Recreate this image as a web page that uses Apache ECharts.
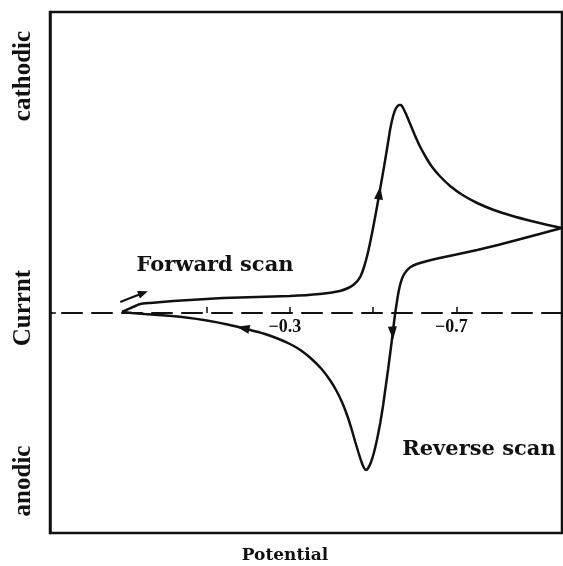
<!DOCTYPE html>
<html>
<head>
<meta charset="utf-8">
<script src="https://cdn.jsdelivr.net/npm/echarts@6/dist/echarts.min.js"></script>
<style>
  html, body { margin: 0; padding: 0; background: #fff; }
  #chart-container { width: 563px; height: 566px; }
</style>
</head>
<body>
<div id="chart-container"></div>
<script>
// potential (V), current (arbitrary units)
var forwardScan = [
  [0.104, 0.01], [0.072, 0.07], [0.060, 0.09], [0.036, 0.10], [-0.019, 0.12],
  [-0.139, 0.15], [-0.300, 0.17], [-0.372, 0.19], [-0.420, 0.22], [-0.440, 0.25],
  [-0.452, 0.28], [-0.462, 0.32], [-0.470, 0.37], [-0.478, 0.46], [-0.486, 0.58],
  [-0.494, 0.73], [-0.502, 0.90], [-0.510, 1.08], [-0.518, 1.27], [-0.526, 1.46],
  [-0.534, 1.66], [-0.541, 1.84], [-0.548, 1.97], [-0.555, 2.05], [-0.562, 2.08],
  [-0.567, 2.08], [-0.572, 2.05], [-0.580, 1.98], [-0.590, 1.88], [-0.600, 1.78],
  [-0.612, 1.67], [-0.625, 1.57], [-0.640, 1.47], [-0.660, 1.37], [-0.685, 1.27],
  [-0.715, 1.18], [-0.750, 1.10], [-0.790, 1.03], [-0.835, 0.97], [-0.880, 0.92],
  [-0.920, 0.88], [-0.954, 0.85]
];

var reverseScan = [
  [-0.954, 0.85], [-0.900, 0.79], [-0.850, 0.735], [-0.800, 0.68], [-0.750, 0.63],
  [-0.700, 0.585], [-0.660, 0.55], [-0.630, 0.52], [-0.605, 0.49], [-0.590, 0.46],
  [-0.580, 0.42], [-0.572, 0.37], [-0.566, 0.30], [-0.561, 0.21], [-0.557, 0.11],
  [-0.553, 0.00], [-0.549, -0.13], [-0.545, -0.27], [-0.541, -0.40], [-0.536, -0.56],
  [-0.530, -0.74], [-0.524, -0.92], [-0.517, -1.10], [-0.509, -1.27], [-0.501, -1.41],
  [-0.494, -1.50], [-0.488, -1.55], [-0.483, -1.57], [-0.478, -1.55], [-0.472, -1.49],
  [-0.465, -1.40], [-0.457, -1.29], [-0.448, -1.16], [-0.438, -1.03], [-0.426, -0.90],
  [-0.412, -0.78], [-0.396, -0.67], [-0.376, -0.56], [-0.352, -0.46], [-0.325, -0.37],
  [-0.300, -0.31], [-0.270, -0.255], [-0.240, -0.21], [-0.200, -0.165], [-0.150, -0.115],
  [-0.100, -0.075], [-0.050, -0.045], [0.000, -0.025], [0.050, -0.01], [0.080, 0.00],
  [0.104, 0.01]
];

// little curved arrow above the start of the scan
var startArrow = [[0.108, 0.11], [0.084, 0.15], [0.053, 0.20]];

// arrow heads sitting on the curve
var forwardArrowAt = [-0.515, 1.20];
var reverseArrowsAt = [[-0.547, -0.20], [-0.187, -0.15]];

var tickValues = [-0.1, -0.3, -0.5, -0.7];
var labelValues = [-0.3, -0.7];

var dom = document.getElementById("chart-container");
var myChart = echarts.init(dom, null, { renderer: "canvas" });

var ink = "#111";
var serif = "'Liberation Serif', 'Times New Roman', serif";
var wideSerif = "'DejaVu Serif', serif";

function arrowHead(coord, rot) {
  return { coord: coord, symbol: "triangle", symbolSize: [9, 13], symbolRotate: rot };
}

var option = {
  animation: false,
  backgroundColor: "#fff",
  grid: {
    left: 50,
    right: 1,
    top: 12,
    bottom: 33,
    show: true,
    borderColor: ink,
    borderWidth: 2.5
  },
  xAxis: {
    type: "value",
    inverse: true,
    min: -0.954,
    max: 0.277,
    // the dashed zero line, lifted from the bottom edge to current = 0
    offset: -220,
    splitLine: { show: false },
    axisLine: {
      onZero: false,
      lineStyle: { color: ink, width: 2, type: [20, 10] }
    },
    axisTick: {
      show: true,
      inside: true,
      length: 6,
      customValues: tickValues,
      lineStyle: { color: ink, width: 1.5 }
    },
    axisLabel: {
      show: true,
      customValues: labelValues,
      margin: 5,
      padding: [0, 10, 0, 0],
      color: ink,
      fontFamily: serif,
      fontWeight: "bold",
      fontSize: 18,
      formatter: function (v) {
        return (v < 0 ? "\u2212" : "") + Math.abs(v).toFixed(1);
      }
    }
  },
  yAxis: {
    type: "value",
    min: -2.2,
    max: 3.01,
    splitLine: { show: false },
    axisLine: { show: true, onZero: false, lineStyle: { color: ink, width: 2.5 } },
    axisTick: {
      show: true,
      inside: true,
      length: 6,
      customValues: [0],
      lineStyle: { color: ink, width: 1.5 }
    },
    axisLabel: { show: false }
  },
  series: [
    {
      name: "Forward scan",
      type: "line",
      data: forwardScan,
      smooth: 0.15,
      showSymbol: false,
      lineStyle: { color: ink, width: 2.5 },
      markPoint: {
        itemStyle: { color: ink },
        label: { show: false },
        data: [arrowHead(forwardArrowAt, -8)]
      }
    },
    {
      name: "Reverse scan",
      type: "line",
      data: reverseScan,
      smooth: 0.15,
      showSymbol: false,
      lineStyle: { color: ink, width: 2.5 },
      markPoint: {
        itemStyle: { color: ink },
        label: { show: false },
        data: [
          arrowHead(reverseArrowsAt[0], 183),
          arrowHead(reverseArrowsAt[1], 78)
        ]
      }
    },
    {
      name: "start",
      type: "line",
      data: startArrow,
      smooth: true,
      showSymbol: false,
      lineStyle: { color: ink, width: 2 },
      markPoint: {
        itemStyle: { color: ink },
        label: { show: false },
        data: [{ coord: startArrow[2], symbol: "triangle", symbolSize: [8, 10], symbolRotate: -69 }]
      }
    }
  ],
  graphic: [
    {
      type: "text", x: 24, y: 76, rotation: Math.PI / 2,
      style: { text: "cathodic", fill: ink, font: "bold 25px " + serif, align: "center", verticalAlign: "middle" }
    },
    {
      type: "text", x: 24, y: 308, rotation: Math.PI / 2,
      style: { text: "Currnt", fill: ink, font: "bold 25px " + serif, align: "center", verticalAlign: "middle" }
    },
    {
      type: "text", x: 24, y: 481, rotation: Math.PI / 2,
      style: { text: "anodic", fill: ink, font: "bold 25px " + serif, align: "center", verticalAlign: "middle" }
    },
    {
      type: "text", x: 215, y: 266,
      style: { text: "Forward scan", fill: ink, font: "bold 21px " + wideSerif, align: "center", verticalAlign: "middle" }
    },
    {
      type: "text", x: 479, y: 450,
      style: { text: "Reverse scan", fill: ink, font: "bold 21px " + wideSerif, align: "center", verticalAlign: "middle" }
    },
    {
      type: "text", x: 285, y: 556,
      style: { text: "Potential", fill: ink, font: "bold 17px " + wideSerif, align: "center", verticalAlign: "middle" }
    }
  ]
};

myChart.setOption(option);
window.addEventListener("resize", myChart.resize);
</script>
</body>
</html>
